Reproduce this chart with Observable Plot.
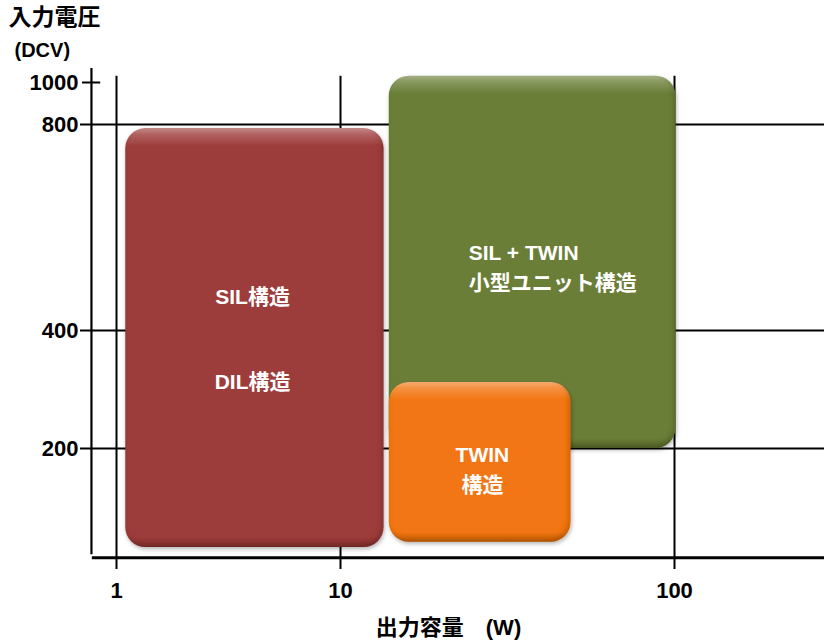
<!DOCTYPE html>
<html><head><meta charset="utf-8">
<script src="https://cdn.jsdelivr.net/npm/d3@7"></script>
<script src="https://cdn.jsdelivr.net/npm/@observablehq/plot@0.6"></script>
<style>
html,body{margin:0;padding:0;background:#fff;}
#chart{width:824px;height:642px;}
#chart g[aria-label^="x-axis"] text, #chart g[aria-label^="y-axis"] text {font-size: 22px; font-weight: bold;}
</style></head><body><div id="chart"></div>
<script>
// Boxes: output capacity (W) range x input voltage (DCV) range
const boxNames   = ["SIL/DIL構造", "SIL + TWIN 小型ユニット構造", "TWIN構造"];
const boxWattMin = [1.1, 14, 14];
const boxWattMax = [13.5, 101, 49];
const boxVoltMin = [32, 200, 41];
const boxVoltMax = [792, 1030, 312];
const boxColors  = ["#9d3c3b", "#6a7e37", "#f27613"];

// Labels inside boxes (one line each)
const labelTexts  = ["SIL構造", "DIL構造", "SIL + TWIN", "小型ユニット構造", "TWIN", "構造"];
const labelWatt   = [4.05, 4.05, 24.2, 24.2, 26.6, 26.6];
const labelVolt   = [464, 312, 550, 491, 188, 137];
const labelAnchor = ["middle", "middle", "start", "start", "middle", "middle"];

// Axis ticks
const xTicks = [1, 10, 100];
const yTicks = [200, 400, 800, 1000];
const yGrid  = [200, 400, 800];
const yShortTick = [1000];

const xTitle = "出力容量　(W)";
const yTitle = "入力電圧";
const yUnit  = "(DCV)";

const boxes = boxNames.map((name, i) => ({
  name, x1: boxWattMin[i], x2: boxWattMax[i], y1: boxVoltMin[i], y2: boxVoltMax[i], color: boxColors[i]
}));
const labels = labelTexts.map((t, i) => ({t, x: labelWatt[i], y: labelVolt[i], a: labelAnchor[i]}));

const font = "'Liberation Sans', Arial, 'Noto Sans CJK JP', sans-serif";

const plot = Plot.plot({
  width: 824,
  height: 642,
  marginLeft: 80,
  marginRight: 0,
  marginTop: 0,
  marginBottom: 70,
  style: {fontFamily: font, fontWeight: "bold", fontSize: "20px", color: "#000", background: "#fff", overflow: "visible"},
  x: {type: "log", domain: [1, 10, 100], range: [116, 340, 674], ticks: xTicks, tickFormat: d => String(d), tickSize: 0, tickPadding: 10, label: null},
  y: {type: "linear", domain: [200, 400, 800, 1000], range: [448, 330, 124, 82], ticks: yTicks, tickFormat: d => String(d), tickSize: 0, tickPadding: 2, label: null},
  marks: [
    // horizontal grid lines
    Plot.ruleY(yGrid, {stroke: "#000", strokeWidth: 2}),
    // short tick at 1000
    Plot.ruleY(yShortTick, {x1: 0.705, x2: 0.85, stroke: "#000", strokeWidth: 2}),
    // vertical grid lines
    Plot.ruleX(xTicks, {y1: -5, y2: 1030, stroke: "#000", strokeWidth: 2}),
    // y axis line
    Plot.ruleX([0.773], {y1: 20, y2: 1067, stroke: "#000", strokeWidth: 2.2}),
    // x axis line
    Plot.ruleY([15], {x1: 0.78, x2: 300, stroke: "#000", strokeWidth: 3}),
    // boxes
    Plot.rect(boxes, {x1: "x1", x2: "x2", y1: "y1", y2: "y2", fill: "color", rx: 20, ry: 20}),
    // labels
    Plot.text(labels.filter(d => d.a === "middle"), {x: "x", y: "y", text: "t", fill: "#fff", fontSize: 21, fontWeight: "bold", textAnchor: "middle"}),
    Plot.text(labels.filter(d => d.a === "start"), {x: "x", y: "y", text: "t", fill: "#fff", fontSize: 21, fontWeight: "bold", textAnchor: "start"}),
    // titles
    Plot.text([yTitle], {frameAnchor: "top-left", text: d => d, dx: -72, dy: 8, fontSize: 23, fontWeight: "bold", textAnchor: "start", fill: "#000"}),
    Plot.text([yUnit], {frameAnchor: "top-left", text: d => d, dx: -66, dy: 42, fontSize: 20, fontWeight: "bold", textAnchor: "start", fill: "#000"}),
    Plot.text([xTitle], {frameAnchor: "bottom", text: d => d, dx: -4, dy: 62, fontSize: 22, fontWeight: "bold", fill: "#000"})
  ]
});

// Decorate boxes with a glossy bevel (gradient + shadow)
const svg = d3.select(plot);
const defs = svg.insert("defs", ":first-child");
const f = defs.append("filter").attr("id", "boxshadow").attr("x", "-10%").attr("y", "-10%").attr("width", "125%").attr("height", "125%");
f.append("feGaussianBlur").attr("in", "SourceAlpha").attr("stdDeviation", 2.5).attr("result", "blur");
f.append("feOffset").attr("in", "blur").attr("dx", -2).attr("dy", -3).attr("result", "off");
f.append("feComposite").attr("in", "SourceAlpha").attr("in2", "off").attr("operator", "out").attr("result", "inner");
f.append("feFlood").attr("flood-color", "#000").attr("flood-opacity", 0.35);
f.append("feComposite").attr("in2", "inner").attr("operator", "in").attr("result", "innerShadow");
f.append("feGaussianBlur").attr("in", "SourceAlpha").attr("stdDeviation", 2).attr("result", "oblur");
f.append("feOffset").attr("in", "oblur").attr("dx", 1).attr("dy", 2).attr("result", "ooff");
f.append("feFlood").attr("flood-color", "#000").attr("flood-opacity", 0.3);
f.append("feComposite").attr("in2", "ooff").attr("operator", "in").attr("result", "outerShadow");
const m = f.append("feMerge");
m.append("feMergeNode").attr("in", "outerShadow");
m.append("feMergeNode").attr("in", "SourceGraphic");
m.append("feMergeNode").attr("in", "innerShadow");

svg.selectAll('g[aria-label="rect"] rect').each(function(d, i) {
  const r = d3.select(this);
  const c = r.attr("fill") || boxColors[i];
  const h = +r.attr("height") || 100;
  const base = d3.color(c);
  const light = d3.interpolateRgb(c, "#fff")(0.4);
  const dark = base.darker(0.5).formatHex();
  const g = defs.append("linearGradient").attr("id", "grad" + i).attr("x1", 0).attr("y1", 0).attr("x2", 0).attr("y2", 1);
  g.append("stop").attr("offset", 0).attr("stop-color", light);
  g.append("stop").attr("offset", Math.min(0.5, 6 / h)).attr("stop-color", d3.interpolateRgb(c, "#fff")(0.2));
  g.append("stop").attr("offset", Math.min(0.5, 18 / h)).attr("stop-color", c);
  g.append("stop").attr("offset", 1 - Math.min(0.4, 10 / h)).attr("stop-color", c);
  g.append("stop").attr("offset", 1).attr("stop-color", dark);
  r.attr("fill", `url(#grad${i})`).attr("filter", "url(#boxshadow)");
});

document.getElementById("chart").appendChild(plot);
</script></body></html>
